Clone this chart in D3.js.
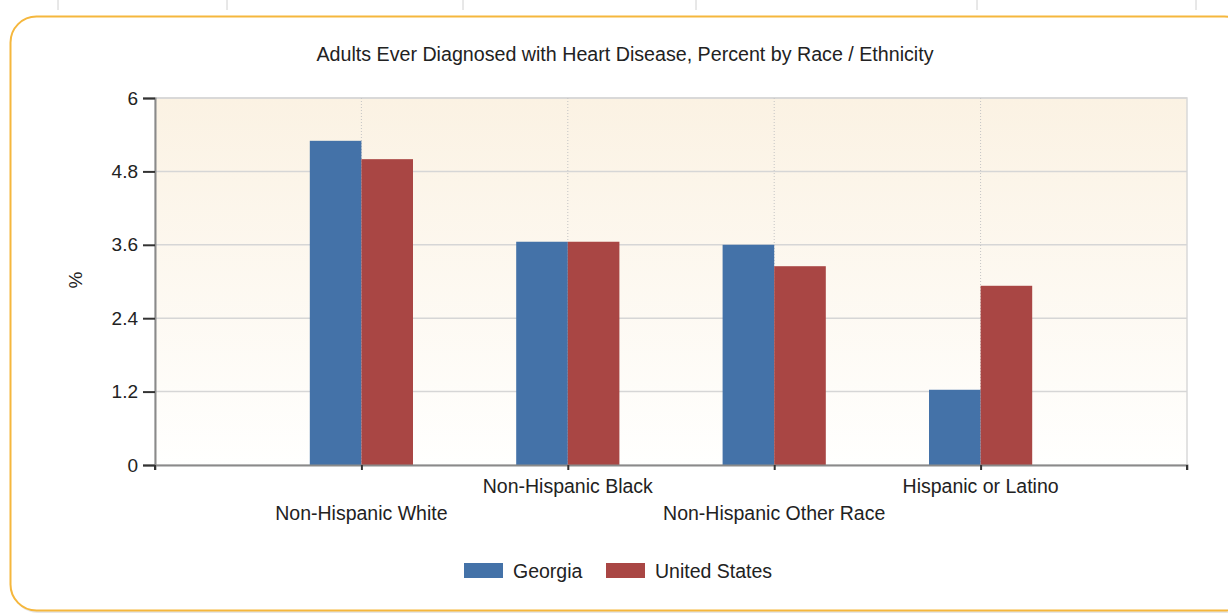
<!DOCTYPE html>
<html>
<head>
<meta charset="utf-8">
<script src="https://d3js.org/d3.v7.min.js"></script>
<style>
  body { margin: 0; background: #fff; }
  svg { display: block; font-family: "Liberation Sans", Arial, sans-serif; }
</style>
</head>
<body>
<svg id="chart" width="1228" height="614"></svg>
<script>
var categories = ["Non-Hispanic White", "Non-Hispanic Black", "Non-Hispanic Other Race", "Hispanic or Latino"];
var seriesNames = ["Georgia", "United States"];
var georgia = [5.3, 3.65, 3.6, 1.23];
var unitedStates = [5.0, 3.65, 3.25, 2.93];
var yTicks = [0, 1.2, 2.4, 3.6, 4.8, 6];
var colors = ["#4472a8", "#a94644"];

var svg = d3.select("#chart");

// bits of the page frame above the card
[58, 227, 463, 696, 977, 1196].forEach(function (x) {
    svg.append("line").attr("x1", x).attr("x2", x).attr("y1", 0).attr("y2", 10)
        .attr("stroke", "#d0d0d0");
});

// card with orange rounded border
svg.append("rect").attr("x", 12).attr("y", 19).attr("width", 1240).attr("height", 594)
    .attr("rx", 26).attr("fill", "#e6e6e6");
svg.append("rect").attr("x", 10.5).attr("y", 16.5).attr("width", 1240).attr("height", 594)
    .attr("rx", 26).attr("fill", "#fff").attr("stroke", "#f5b73d").attr("stroke-width", 2);

var margin = { top: 98, left: 155 },
    width = 1032,
    height = 367;

var defs = svg.append("defs");
var grad = defs.append("linearGradient").attr("id", "bg").attr("x1", 0).attr("x2", 0).attr("y1", 0).attr("y2", 1);
grad.append("stop").attr("offset", "0%").attr("stop-color", "#fbf2e3");
grad.append("stop").attr("offset", "100%").attr("stop-color", "#fffffe");

var g = svg.append("g").attr("transform", "translate(" + margin.left + "," + margin.top + ")");

g.append("rect").attr("width", width).attr("height", height).attr("fill", "url(#bg)")
    .attr("stroke", "#d9d9d9").attr("stroke-width", 1.5);

var x = d3.scalePoint().domain(categories).range([0, width]).padding(1);
var y = d3.scaleLinear().domain([0, 6]).range([height, 0]);
var barW = x.step() * 0.25;

// horizontal grid
g.selectAll(".hgrid").data(yTicks.slice(1)).enter().append("line")
    .attr("x1", 0).attr("x2", width)
    .attr("y1", function (d) { return y(d); }).attr("y2", function (d) { return y(d); })
    .attr("stroke", "#d6d6d6").attr("stroke-width", 1.5);

// vertical dotted grid at categories
g.selectAll(".vgrid").data(categories).enter().append("line")
    .attr("x1", function (d) { return x(d); }).attr("x2", function (d) { return x(d); })
    .attr("y1", 0).attr("y2", height)
    .attr("stroke", "#c4c4c4").attr("stroke-dasharray", "1,2");

// bars
var series = [georgia, unitedStates];
series.forEach(function (vals, s) {
    g.selectAll(".bar" + s).data(categories).enter().append("rect")
        .attr("x", function (d) { return x(d) - barW + s * barW; })
        .attr("y", function (d, i) { return y(vals[i]); })
        .attr("width", barW)
        .attr("height", function (d, i) { return height - y(vals[i]); })
        .attr("fill", colors[s]);
});

// y axis
var yAxis = g.append("g").call(d3.axisLeft(y).tickValues(yTicks).tickSize(12).tickPadding(5)
    .tickFormat(function (d) { return d; }));
yAxis.select(".domain").attr("stroke", "#8a8a8a").attr("stroke-width", 2);
yAxis.selectAll(".tick line").attr("stroke", "#333").attr("stroke-width", 2);
yAxis.selectAll("text").attr("font-size", 19).attr("fill", "#222")
    .attr("font-family", "'Liberation Sans', Arial, sans-serif");

// x axis
var xAxis = g.append("g").attr("transform", "translate(0," + height + ")")
    .call(d3.axisBottom(x).tickSize(5).tickFormat(""));
xAxis.select(".domain").attr("stroke", "#8a8a8a").attr("stroke-width", 2);
xAxis.selectAll(".tick line").attr("stroke", "#333").attr("stroke-width", 2);
xAxis.selectAll(".edge").data([0, width]).enter().append("line").attr("class", "edge")
    .attr("x1", function (d) { return d; }).attr("x2", function (d) { return d; })
    .attr("y1", 0).attr("y2", 5).attr("stroke", "#333").attr("stroke-width", 2);

g.selectAll(".xlab").data(categories).enter().append("text")
    .attr("x", function (d) { return x(d); })
    .attr("y", function (d, i) { return height + (i % 2 === 0 ? 55 : 28); })
    .attr("text-anchor", "middle").attr("font-size", 19.5).attr("fill", "#222")
    .text(function (d) { return d; });

// y label
svg.append("text").attr("transform", "translate(82,280) rotate(-90)")
    .attr("text-anchor", "middle").attr("font-size", 19).attr("fill", "#222").text("%");

// title
svg.append("text").attr("x", 625).attr("y", 61).attr("text-anchor", "middle")
    .attr("font-size", 19.5).attr("fill", "#222")
    .attr("textLength", 617).attr("lengthAdjust", "spacingAndGlyphs")
    .text("Adults Ever Diagnosed with Heart Disease, Percent by Race / Ethnicity");

// legend
var legendX = [464, 606];
seriesNames.forEach(function (name, s) {
    svg.append("rect").attr("x", legendX[s]).attr("y", 563).attr("width", 39).attr("height", 15)
        .attr("fill", colors[s]);
    svg.append("text").attr("x", legendX[s] + 49).attr("y", 578).attr("font-size", 19.5)
        .attr("fill", "#222").text(name);
});
</script>
</body>
</html>
